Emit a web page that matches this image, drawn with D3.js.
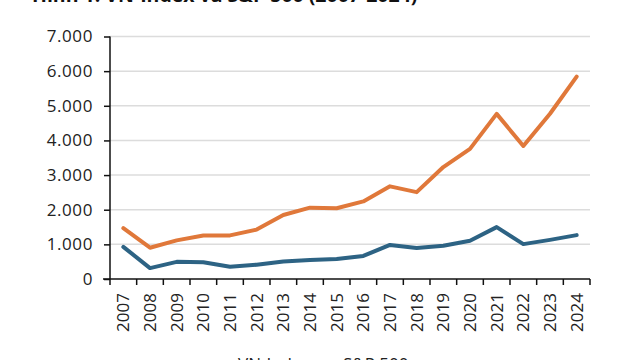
<!DOCTYPE html>
<html><head><meta charset="utf-8">
<script src="https://cdn.jsdelivr.net/npm/d3@7"></script>
<style>
html,body{margin:0;padding:0;background:#fff;}
svg{display:block;font-family:"Open Sans",sans-serif;}
</style></head>
<body>
<svg id="c" width="640" height="360"></svg>
<script>
const title = "Hình 1: VN-Index và S&P 500 (2007-2024)";
const years = ["2007","2008","2009","2010","2011","2012","2013","2014","2015","2016","2017","2018","2019","2020","2021","2022","2023","2024"];
const vnIndex = [927, 315, 495, 485, 352, 414, 505, 546, 579, 665, 984, 893, 961, 1104, 1498, 1007, 1130, 1267];
const sp500 = [1468, 903, 1115, 1258, 1258, 1426, 1848, 2059, 2044, 2239, 2674, 2507, 3231, 3756, 4766, 3840, 4770, 5843];
const yTicks = [0, 1000, 2000, 3000, 4000, 5000, 6000, 7000];
const seriesNames = ["VN-Index", "S&P 500"];
const colors = ["#2D6384", "#E0783A"];

const svg = d3.select("#c");
const m = {left:110, right:590, top:36.5, bottom:279};
const x = d3.scaleBand().domain(years).range([m.left, m.right]).padding(0);
const y = d3.scaleLinear().domain([0, 7000]).range([m.bottom, m.top]);
const fmt = v => d3.format(",")(v).replace(/,/g, ".");

// title (partially cut off at top)
svg.append("text").attr("x", 32).attr("y", 2).attr("font-weight", "bold")
  .attr("font-size", 19.5).attr("fill", "#111").text(title);

// gridlines
svg.append("g").selectAll("line").data(yTicks.filter(d => d > 0)).join("line")
  .attr("x1", m.left).attr("x2", m.right)
  .attr("y1", d => y(d)).attr("y2", d => y(d))
  .attr("stroke", "#dcdcdc").attr("stroke-width", 1.5);

// y axis
const yAxis = svg.append("g").attr("transform", `translate(${m.left},0)`)
  .call(d3.axisLeft(y).tickValues(yTicks).tickFormat(fmt).tickSize(6).tickPadding(11));
yAxis.select(".domain").attr("stroke", "#111").attr("stroke-width", 1.5).attr("d", `M0,${m.top}V${m.bottom}`);
yAxis.selectAll(".tick line").attr("stroke", "#111").attr("stroke-width", 1.5);
yAxis.selectAll("text").attr("font-size", 17).attr("fill", "#222").attr("font-family", "Open Sans").attr("letter-spacing", 0.6);

// x axis with ticks at band boundaries
const xg = svg.append("g").attr("transform", `translate(0,${m.bottom})`);
xg.append("line").attr("x1", m.left - 7).attr("x2", m.right).attr("y1", 0).attr("y2", 0)
  .attr("stroke", "#111").attr("stroke-width", 1.5);
const bounds = years.map(d => x(d)).concat([m.right]);
xg.selectAll("line.tk").data(bounds).join("line").attr("class", "tk")
  .attr("x1", d => d).attr("x2", d => d).attr("y1", 0).attr("y2", 6)
  .attr("stroke", "#111").attr("stroke-width", 1.5);
xg.selectAll("text").data(years).join("text")
  .attr("transform", d => `translate(${x(d) + x.bandwidth()/2 + 6},14) rotate(-90)`)
  .attr("text-anchor", "end").attr("font-size", 17).attr("fill", "#222").text(d => d);

// lines
const line = d3.line().x((d, i) => x(years[i]) + x.bandwidth()/2).y(d => y(d));
[vnIndex, sp500].forEach((s, k) => {
  svg.append("path").datum(s).attr("d", line).attr("fill", "none")
    .attr("stroke", colors[k]).attr("stroke-width", 4)
    .attr("stroke-linejoin", "round").attr("stroke-linecap", "round");
});

// legend (cut off at bottom)
const lg = svg.append("g");
const items = [{x: 198, name: seriesNames[0], c: colors[0]}, {x: 303, name: seriesNames[1], c: colors[1]}];
items.forEach(it => {
  lg.append("line").attr("x1", it.x).attr("x2", it.x + 34).attr("y1", 366).attr("y2", 366)
    .attr("stroke", it.c).attr("stroke-width", 4);
  lg.append("text").attr("x", it.x + 40).attr("y", 370).attr("font-size", 17).attr("fill", "#222").text(it.name);
});
</script>
</body></html>
